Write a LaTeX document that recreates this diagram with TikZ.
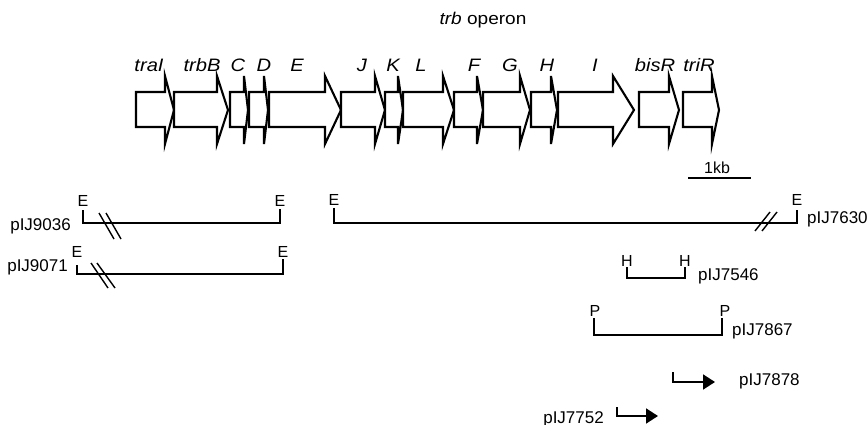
\documentclass[tikz,border=0pt]{standalone}
\usepackage{fontspec}
\setmainfont{Liberation Sans}
\usetikzlibrary{arrows.meta}
\newcommand\genearrow[4]{% name, left, head base, tip
  \draw[gene] (#2,92) -- (#3,92) -- (#3,76) -- (#4,110) -- (#3,144) -- (#3,127) -- (#2,127) -- cycle;
  \coordinate (#1) at ({(#2+#4)/2},110);}
\newcommand\wide[1]{\scalebox{1.12}[1]{#1}}
\begin{document}
\begin{tikzpicture}[x=1pt,y=-1pt,
  gene/.style={draw=black, line width=2.1pt, line join=miter, fill=white},
  genelabel/.style={font=\fontsize{18}{18}\selectfont\itshape, anchor=base, inner sep=0pt},
  site/.style={font=\fontsize{16}{16}\selectfont, anchor=base, inner sep=0pt},
  plabel/.style={font=\fontsize{17}{17}\selectfont, inner sep=0pt},
  clone/.style={draw=black, line width=1.6pt},
  brk/.style={draw=black, line width=1.4pt},
  promoter/.style={draw=black, line width=1.8pt, -{Triangle[length=12pt,width=15pt]}}]
\useasboundingbox (0,0) rectangle (868,425);

% title
\node[anchor=base, inner sep=0pt, font=\fontsize{17}{17}\selectfont] (title) at (483,25) {\wide{\textit{trb} operon}};

% gene arrows
\genearrow{gtraI}{136}{165}{174}
\genearrow{gtrbB}{174}{217}{228}
\genearrow{gC}{230}{244}{248}
\genearrow{gD}{249}{264}{268}
\genearrow{gE}{269}{325}{341}
\genearrow{gJ}{341}{375}{385}
\genearrow{gK}{385}{398}{403}
\genearrow{gL}{403}{443}{454}
\genearrow{gF}{454}{477}{483}
\genearrow{gG}{483}{520}{530}
\genearrow{gH}{531}{551}{557}
\genearrow{gI}{558}{613}{634}
\genearrow{gbisR}{639}{669}{679}
\genearrow{gtriR}{683}{712}{719}

% gene labels
\node[genelabel] (ltraI) at (149,72) {\wide{traI}};
\node[genelabel] (ltrbB) at (202,72) {\wide{trbB}};
\node[genelabel] (lC) at (238,72) {\wide{C}};
\node[genelabel] (lD) at (264,72) {\wide{D}};
\node[genelabel] (lE) at (297,72) {\wide{E}};
\node[genelabel] (lJ) at (362,72) {\wide{J}};
\node[genelabel] (lK) at (393,72) {\wide{K}};
\node[genelabel] (lL) at (421,72) {\wide{L}};
\node[genelabel] (lF) at (474,72) {\wide{F}};
\node[genelabel] (lG) at (510,72) {\wide{G}};
\node[genelabel] (lH) at (547,72) {\wide{H}};
\node[genelabel] (lI) at (595,72) {\wide{I}};
\node[genelabel] (lbisR) at (655,72) {\wide{bisR}};
\node[genelabel] (ltriR) at (699,72) {\wide{triR}};

% scale bar
\coordinate (sb1) at (688,178);
\coordinate (sb2) at (751,178);
\draw[line width=1.4pt] (sb1) -- (sb2);
\node[anchor=base, inner sep=0pt, font=\fontsize{16}{16}\selectfont] (kb) at (717,174) {1kb};

% pIJ9036
\coordinate (a1) at (83,210); \coordinate (a2) at (83,223);
\coordinate (a3) at (280,223); \coordinate (a4) at (280,209);
\draw[clone, line width=1.8pt] (a1) -- (a2) -- (a3) -- (a4);
\node[site] (aE1) at (83,207) {E};
\node[site] (aE2) at (280,207) {E};
\coordinate (ab1) at (99,213); \coordinate (ab2) at (114,239);
\coordinate (ab3) at (106,213); \coordinate (ab4) at (121,239);
\draw[brk] (ab1) -- (ab2); \draw[brk] (ab3) -- (ab4);
\node[plabel, anchor=base east] (p9036) at (71,230) {pIJ9036};

% pIJ9071
\coordinate (b1) at (77,265); \coordinate (b2) at (77,274);
\coordinate (b3) at (283,274); \coordinate (b4) at (283,259);
\draw[clone, line width=1.4pt] (b1) -- (b2) -- (b3) -- (b4);
\node[site] (bE1) at (77,257) {E};
\node[site] (bE2) at (283,257) {E};
\coordinate (bb1) at (91,263); \coordinate (bb2) at (108,288);
\coordinate (bb3) at (97,263); \coordinate (bb4) at (115,288);
\draw[brk] (bb1) -- (bb2); \draw[brk] (bb3) -- (bb4);
\node[plabel, anchor=base east] (p9071) at (68,271) {pIJ9071};

% pIJ7630
\coordinate (c1) at (334,208); \coordinate (c2) at (334,223);
\coordinate (c3) at (797,223); \coordinate (c4) at (797,210);
\draw[clone, line width=1.8pt] (c1) -- (c2) -- (c3) -- (c4);
\node[site] (cE1) at (334,206) {E};
\node[site] (cE2) at (797,205) {E};
\coordinate (cb1) at (755,231); \coordinate (cb2) at (770,212);
\coordinate (cb3) at (762,231); \coordinate (cb4) at (777,212);
\draw[brk] (cb1) -- (cb2); \draw[brk] (cb3) -- (cb4);
\node[plabel, anchor=base west] (p7630) at (807,223) {pIJ7630};

% pIJ7546
\coordinate (d1) at (627,267); \coordinate (d2) at (627,278);
\coordinate (d3) at (685,278); \coordinate (d4) at (685,267);
\draw[clone] (d1) -- (d2) -- (d3) -- (d4);
\node[site] (dH1) at (627,266) {H};
\node[site] (dH2) at (685,266) {H};
\node[plabel, anchor=base west] (p7546) at (698,280) {pIJ7546};

% pIJ7867
\coordinate (e1) at (594,318); \coordinate (e2) at (594,335);
\coordinate (e3) at (722,335); \coordinate (e4) at (722,318);
\draw[clone] (e1) -- (e2) -- (e3) -- (e4);
\node[site] (eP1) at (595,316) {P};
\node[site] (eP2) at (725,316) {P};
\node[plabel, anchor=base west] (p7867) at (732,335) {pIJ7867};

% pIJ7878
\coordinate (f1) at (673,372); \coordinate (f2) at (673,382);
\coordinate (f3) at (715,382);
\draw[promoter] (f1) -- (f2) -- (f3);
\node[plabel, anchor=base west] (p7878) at (739,385) {pIJ7878};

% pIJ7752
\coordinate (g1) at (617,407); \coordinate (g2) at (617,416);
\coordinate (g3) at (658,416);
\draw[promoter] (g1) -- (g2) -- (g3);
\node[plabel, anchor=base east] (p7752) at (604,423) {pIJ7752};
\end{tikzpicture}
\end{document}
